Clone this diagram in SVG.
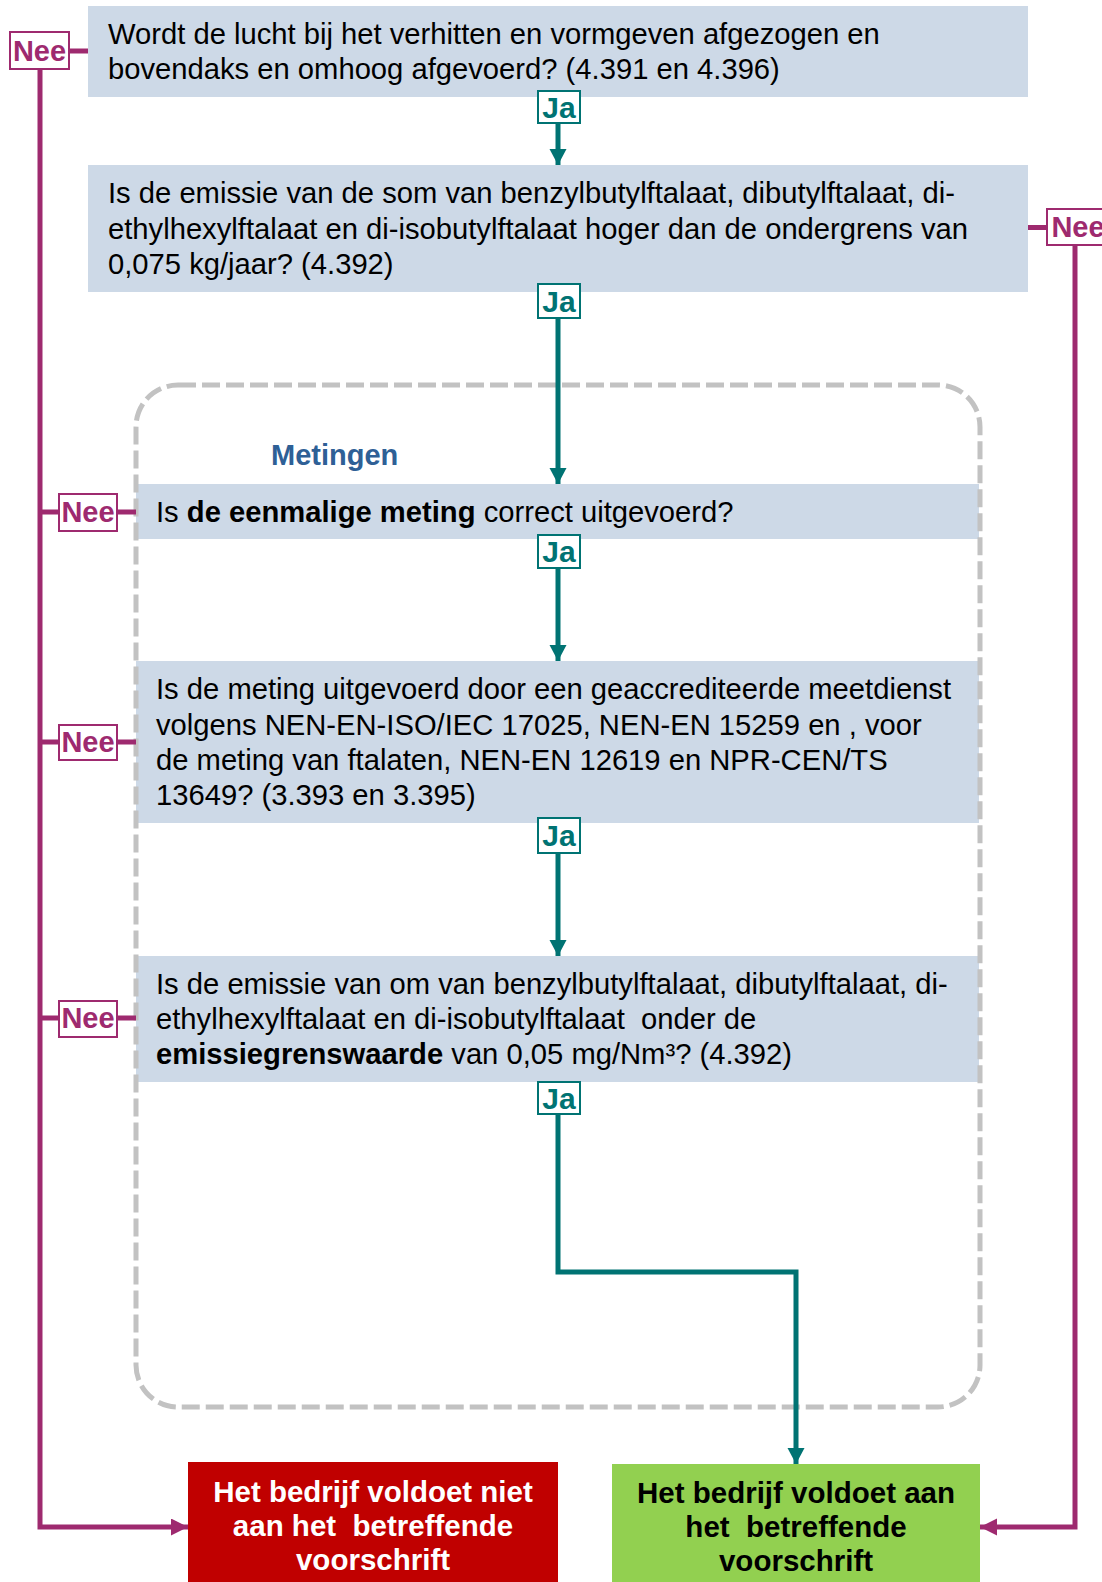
<svg xmlns="http://www.w3.org/2000/svg" width="1102" height="1582" viewBox="0 0 1102 1582">
<defs>
<marker id="arT" markerUnits="userSpaceOnUse" markerWidth="18" markerHeight="18" refX="16" refY="8.5" orient="auto"><path d="M0,0 L16,8.5 L0,17 z" fill="#007373"/></marker>
<marker id="arM" markerUnits="userSpaceOnUse" markerWidth="18" markerHeight="18" refX="17" refY="8.5" orient="auto"><path d="M0,0 L17,8.5 L0,17 z" fill="#9E2A6F"/></marker>
</defs>
<style>
.q{fill:#CDD9E7}
.t{font-family:"Liberation Sans",Arial,sans-serif;font-size:29.2px;fill:#000}
.b{font-weight:bold}
.nee{fill:#fff;stroke:#9E2A6F;stroke-width:2}
.neet{font-family:"Liberation Sans",Arial,sans-serif;font-size:29px;font-weight:bold;fill:#9E2A6F;text-anchor:middle}
.ja{fill:#fff;stroke:#007373;stroke-width:2}
.jat{font-family:"Liberation Sans",Arial,sans-serif;font-size:30px;font-weight:bold;fill:#007373;text-anchor:middle}
.cm{fill:none;stroke:#9E2A6F;stroke-width:5}
.ct{fill:none;stroke:#007373;stroke-width:5}
.res{font-family:"Liberation Sans",Arial,sans-serif;font-size:29.5px;font-weight:bold;text-anchor:middle}
</style>
<rect width="1102" height="1582" fill="#fff"/>
<g id="node-q1">
<rect class="q" x="88" y="6" width="940" height="91"/>
<text class="t" x="108" y="43.5">Wordt de lucht bij het verhitten en vormgeven afgezogen en</text>
<text class="t" x="108" y="79">bovendaks en omhoog afgevoerd? (4.391 en 4.396)</text>
</g>
<g id="node-q2">
<rect class="q" x="88" y="165" width="940" height="127"/>
<text class="t" x="108" y="203">Is de emissie van de som van benzylbutylftalaat, dibutylftalaat, di-</text>
<text class="t" x="108" y="238.5">ethylhexylftalaat en di-isobutylftalaat hoger dan de ondergrens van</text>
<text class="t" x="108" y="274">0,075 kg/jaar? (4.392)</text>
</g>
<g id="node-q3">
<rect class="q" x="136" y="484" width="843" height="55"/>
<text class="t" x="156" y="521.5">Is <tspan class="b">de eenmalige meting</tspan> correct uitgevoerd?</text>
</g>
<g id="node-q4">
<rect class="q" x="136" y="661" width="843" height="162"/>
<text class="t" x="156" y="699">Is de meting uitgevoerd door een geaccrediteerde meetdienst</text>
<text class="t" x="156" y="734.5">volgens NEN-EN-ISO/IEC 17025, NEN-EN 15259 en , voor</text>
<text class="t" x="156" y="769.5">de meting van ftalaten, NEN-EN 12619 en NPR-CEN/TS</text>
<text class="t" x="156" y="804.5">13649? (3.393 en 3.395)</text>
</g>
<g id="node-q5">
<rect class="q" x="136" y="956" width="843" height="126"/>
<text class="t" x="156" y="994">Is de emissie van om van benzylbutylftalaat, dibutylftalaat, di-</text>
<text class="t" x="156" y="1028.5" xml:space="preserve">ethylhexylftalaat en di-isobutylftalaat  onder de</text>
<text class="t" x="156" y="1063.5"><tspan class="b">emissiegrenswaarde</tspan> van 0,05 mg/Nm³? (4.392)</text>
</g>
<g id="group-metingen">
<rect x="136" y="385" width="844" height="1022" rx="42" fill="none" stroke="#C2C2C2" stroke-width="5" stroke-dasharray="18 6"/>
<text x="271" y="465" font-family="Liberation Sans, Arial, sans-serif" font-size="29" font-weight="bold" fill="#2E6096">Metingen</text>
</g>
<g id="node-fail">
<rect x="188" y="1462" width="370" height="120" fill="#C00000"/>
<text class="res" x="373" y="1501.5" fill="#fff">Het bedrijf voldoet niet</text>
<text class="res" x="373" y="1536" fill="#fff" xml:space="preserve">aan het  betreffende</text>
<text class="res" x="373" y="1570" fill="#fff">voorschrift</text>
</g>
<g id="node-pass">
<rect x="612" y="1464" width="368" height="118" fill="#92D050"/>
<text class="res" x="796" y="1502.5" fill="#000">Het bedrijf voldoet aan</text>
<text class="res" x="796" y="1537" fill="#000" xml:space="preserve">het  betreffende</text>
<text class="res" x="796" y="1571" fill="#000">voorschrift</text>
</g>
<g id="connectors">
<path class="ct" d="M558,123 V165" marker-end="url(#arT)"/>
<path class="ct" d="M558,318 V484" marker-end="url(#arT)"/>
<path class="ct" d="M558,568 V661" marker-end="url(#arT)"/>
<path class="ct" d="M558,853 V956" marker-end="url(#arT)"/>
<path class="ct" d="M558,1114 V1272 H796 V1464" marker-end="url(#arT)"/>
<path class="cm" d="M69,51 H88"/>
<path class="cm" d="M40,69 V1527 H188" marker-end="url(#arM)"/>
<path class="cm" d="M40,512 H59 M117,512 H136"/>
<path class="cm" d="M40,742 H59 M117,742 H136"/>
<path class="cm" d="M40,1018 H59 M117,1018 H136"/>
<path class="cm" d="M1028,227.5 H1047"/>
<path class="cm" d="M1075,245 V1527 H980" marker-end="url(#arM)"/>
<rect class="ja" x="538" y="91" width="42" height="32"/>
<text class="jat" x="559" y="118">Ja</text>
<rect class="ja" x="538" y="284" width="42" height="34"/>
<text class="jat" x="559" y="312">Ja</text>
<rect class="ja" x="538" y="535" width="42" height="33"/>
<text class="jat" x="559" y="562">Ja</text>
<rect class="ja" x="538" y="818" width="42" height="35"/>
<text class="jat" x="559" y="846">Ja</text>
<rect class="ja" x="538" y="1082" width="42" height="32"/>
<text class="jat" x="559" y="1109">Ja</text>
<rect class="nee" x="10" y="32" width="59" height="37"/>
<text class="neet" x="39.5" y="61">Nee</text>
<rect class="nee" x="1047" y="209" width="60" height="36"/>
<text class="neet" x="1078" y="237">Nee</text>
<rect class="nee" x="59" y="494" width="58" height="37"/>
<text class="neet" x="88" y="522">Nee</text>
<rect class="nee" x="59" y="725" width="58" height="35"/>
<text class="neet" x="88" y="752">Nee</text>
<rect class="nee" x="59" y="1001" width="58" height="36"/>
<text class="neet" x="88" y="1028">Nee</text>
</g>
</svg>
